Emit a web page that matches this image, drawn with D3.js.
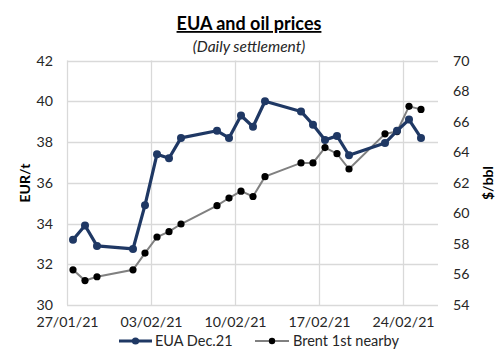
<!DOCTYPE html>
<html>
<head>
<meta charset="utf-8">
<script src="https://cdn.jsdelivr.net/npm/d3@7"></script>
<style>
  html, body { margin: 0; padding: 0; background: #fff; }
  svg { display: block; font-family: Lato, "Liberation Sans", sans-serif; }
</style>
</head>
<body>
<svg id="chart" width="499" height="354"></svg>
<script>
// ---- data ----
const dates = ["2021-01-27","2021-01-28","2021-01-29","2021-02-01","2021-02-02","2021-02-03","2021-02-04","2021-02-05",
  "2021-02-08","2021-02-09","2021-02-10","2021-02-11","2021-02-12","2021-02-15","2021-02-16","2021-02-17","2021-02-18",
  "2021-02-19","2021-02-22","2021-02-23","2021-02-24","2021-02-25"];
const euaValues = [33.2, 33.9, 32.9, 32.75, 34.9, 37.4, 37.2, 38.2, 38.55, 38.2, 39.3, 38.75, 40.0, 39.5, 38.85, 38.1, 38.3, 37.35, 37.95, 38.55, 39.1, 38.2];
const brentValues = [56.3, 55.6, 55.85, 56.3, 57.4, 58.45, 58.8, 59.3, 60.5, 61.0, 61.45, 61.1, 62.4, 63.3, 63.3, 64.3, 63.9, 62.9, 65.2, 65.35, 67.0, 66.8];
const xTickDates = ["2021-01-27","2021-02-03","2021-02-10","2021-02-17","2021-02-24"];
const xTickLabels = ["27/01/21","03/02/21","10/02/21","17/02/21","24/02/21"];
const leftTicks = [30, 32, 34, 36, 38, 40, 42];
const rightTicks = [54, 56, 58, 60, 62, 64, 66, 68, 70];
const seriesNames = ["EUA Dec.21", "Brent 1st nearby"];

// ---- setup ----
const svg = d3.select("#chart");
const parse = s => new Date(s + "T00:00:00Z");
const halfDay = 12 * 3600 * 1000;
const pLeft = 67, pRight = 439, pTop = 60.5, pBottom = 305;

const x = d3.scaleUtc().domain([parse("2021-01-27"), parse("2021-02-27")]).range([pLeft, pRight]);
const yL = d3.scaleLinear().domain([30, 42]).range([pBottom, pTop]);
const yR = d3.scaleLinear().domain([54, 70]).range([pBottom, pTop]);

const euaColor = "#1f3864", brentLine = "#808080", brentMarker = "#000000", gridColor = "#d9d9d9";

// gridlines
svg.append("g").selectAll("line").data(leftTicks).join("line")
  .attr("x1", pLeft).attr("x2", pRight - 1)
  .attr("y1", d => Math.round(yL(d)) + 0.5).attr("y2", d => Math.round(yL(d)) + 0.5)
  .attr("stroke", gridColor).attr("stroke-width", 1.3);
svg.append("g").selectAll("line").data(xTickDates).join("line")
  .attr("x1", d => Math.round(x(parse(d))) + 0.5).attr("x2", d => Math.round(x(parse(d))) + 0.5)
  .attr("y1", pTop).attr("y2", pBottom)
  .attr("stroke", gridColor).attr("stroke-width", 1.3);

// axes
const axL = d3.axisLeft(yL).tickValues(leftTicks).tickSize(0).tickPadding(14);
const gL = svg.append("g").attr("transform", `translate(${pLeft},0)`).call(axL);
const axR = d3.axisRight(yR).tickValues(rightTicks).tickSize(0).tickPadding(14);
const gR = svg.append("g").attr("transform", `translate(${pRight},0)`).call(axR);
const axB = d3.axisBottom(x).tickValues(xTickDates.map(parse)).tickFormat((d, i) => xTickLabels[i]).tickSize(0).tickPadding(12);
const gB = svg.append("g").attr("transform", `translate(0,${pBottom})`).call(axB);
[gL, gR, gB].forEach(g => {
  g.select(".domain").remove();
  g.selectAll("text").attr("fill", "#262626").style("font-size", "14.2px").style("font-family", "Lato, sans-serif");
});

// axis titles
svg.append("text").attr("transform", `translate(30,183) rotate(-90)`)
  .attr("text-anchor", "middle").attr("font-weight", "bold").attr("font-size", 14).attr("fill", "#000")
  .text("EUR/t");
svg.append("text").attr("transform", `translate(493,183) rotate(-90)`)
  .attr("text-anchor", "middle").attr("font-weight", "bold").attr("font-size", 14).attr("fill", "#000")
  .text("$/bbl");

// title
svg.append("text").attr("x", 249).attr("y", 30).attr("text-anchor", "middle")
  .attr("font-weight", "bold").attr("font-size", 18).attr("fill", "#000")
  .attr("text-decoration", "underline").text("EUA and oil prices");
svg.append("text").attr("x", 249).attr("y", 52).attr("text-anchor", "middle")
  .attr("font-style", "italic").attr("font-size", 15.5).attr("fill", "#262626")
  .text("(Daily settlement)");

// series
const euaData = dates.map((d, i) => ({ t: new Date(+parse(d) + halfDay), v: euaValues[i] }));
const brentData = dates.map((d, i) => ({ t: new Date(+parse(d) + halfDay), v: brentValues[i] }));

svg.append("path").datum(brentData)
  .attr("fill", "none").attr("stroke", brentLine).attr("stroke-width", 2)
  .attr("d", d3.line().x(d => x(d.t)).y(d => yR(d.v)));
svg.append("g").selectAll("circle").data(brentData).join("circle")
  .attr("cx", d => x(d.t)).attr("cy", d => yR(d.v)).attr("r", 3.6).attr("fill", brentMarker);

svg.append("path").datum(euaData)
  .attr("fill", "none").attr("stroke", euaColor).attr("stroke-width", 3.2).attr("stroke-linejoin", "round")
  .attr("d", d3.line().x(d => x(d.t)).y(d => yL(d.v)));
svg.append("g").selectAll("circle").data(euaData).join("circle")
  .attr("cx", d => x(d.t)).attr("cy", d => yL(d.v)).attr("r", 4).attr("fill", euaColor);

// legend
const lg = svg.append("g");
const legendY = 341;
const items = [
  { x0: 119, x1: 152, color: euaColor, w: 3.2, mk: euaColor, r: 3.6, tx: 155, name: seriesNames[0] },
  { x0: 255, x1: 289, color: brentLine, w: 2, mk: brentMarker, r: 3.2, tx: 293, name: seriesNames[1] }
];
items.forEach(it => {
  lg.append("line").attr("x1", it.x0).attr("x2", it.x1).attr("y1", legendY).attr("y2", legendY)
    .attr("stroke", it.color).attr("stroke-width", it.w);
  lg.append("circle").attr("cx", (it.x0 + it.x1) / 2).attr("cy", legendY).attr("r", it.r).attr("fill", it.mk);
  lg.append("text").attr("x", it.tx).attr("y", legendY).attr("dy", "0.35em")
    .attr("font-size", 14.5).attr("fill", "#262626").text(it.name);
});
</script>
</body>
</html>
